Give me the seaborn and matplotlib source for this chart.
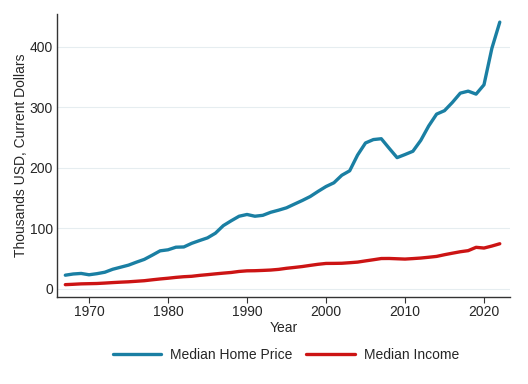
import matplotlib
matplotlib.use("Agg")
import matplotlib.pyplot as plt
import seaborn as sns
import pandas as pd

years = list(range(1967, 2023))
home_price = [22.7, 24.7, 25.6, 23.4, 25.2, 27.6, 32.5, 35.9, 39.3, 44.2,
              48.8, 55.7, 62.9, 64.6, 68.9, 69.3, 75.3, 79.9, 84.3, 92.0,
              104.5, 112.5, 120.0, 122.9, 120.0, 121.5, 126.5, 130.0, 133.9, 140.0,
              146.0, 152.5, 161.0, 169.0, 175.2, 187.6, 195.0, 221.0, 240.9, 246.5,
              247.9, 232.1, 216.7, 221.8, 227.2, 245.2, 268.9, 288.5, 294.2, 307.8,
              323.1, 326.4, 321.5, 336.9, 397.1, 440.3]
income = [7.1, 7.7, 8.4, 8.7, 9.0, 9.7, 10.5, 11.2, 11.8, 12.7,
          13.6, 15.1, 16.5, 17.7, 19.1, 20.2, 20.9, 22.4, 23.6, 24.9,
          26.1, 27.2, 28.9, 29.9, 30.1, 30.6, 31.2, 32.3, 34.1, 35.5,
          37.0, 38.9, 40.7, 42.1, 42.2, 42.4, 43.3, 44.3, 46.3, 48.2,
          50.2, 50.3, 49.8, 49.3, 50.1, 51.0, 52.3, 53.7, 56.5, 59.0,
          61.4, 63.2, 68.7, 67.5, 70.8, 74.6]
series_names = ["Median Home Price", "Median Income"]
colors = ["#1a7fa3", "#cc1414"]

df = pd.DataFrame({"Year": years * 2,
                   "Value": home_price + income,
                   "Series": [series_names[0]] * len(years) + [series_names[1]] * len(years)})

sns.set_theme(style="white")
plt.rcParams['font.family'] = ['Liberation Sans', 'DejaVu Sans']

fig = plt.figure(figsize=(5.28, 3.84), dpi=100)
ax = fig.add_axes([0.108, 0.227, 0.858, 0.737])
sns.lineplot(data=df, x="Year", y="Value", hue="Series", palette=colors,
             linewidth=2.4, ax=ax)

ax.set_xlim(1965.95, 2023.3)
ax.set_ylim(-13, 454)
ax.set_xticks([1970, 1980, 1990, 2000, 2010, 2020])
ax.set_yticks([0, 100, 200, 300, 400])
ax.yaxis.grid(True, color="#e6edf0", linewidth=0.8)
ax.xaxis.grid(False)
for s in ["top", "right"]:
    ax.spines[s].set_visible(False)
for s in ["left", "bottom"]:
    ax.spines[s].set_color("#333333")
    ax.spines[s].set_linewidth(1.0)
ax.tick_params(axis="x", bottom=True, length=4, width=0.8, color="#333333", labelsize=10, pad=2)
ax.tick_params(axis="y", left=False, length=0, labelsize=10, pad=3)
ax.set_xlabel("Year", fontsize=10, labelpad=1)
ax.set_ylabel("Thousands USD, Current Dollars", fontsize=10, labelpad=1)

handles, labels = ax.get_legend_handles_labels()
ax.legend(handles, labels, loc="upper center", bbox_to_anchor=(0.505, -0.135),
          ncol=2, frameon=False, fontsize=10, handlelength=3.5, columnspacing=0.95,
          handletextpad=0.65)

fig.savefig("out.png", dpi=100)
